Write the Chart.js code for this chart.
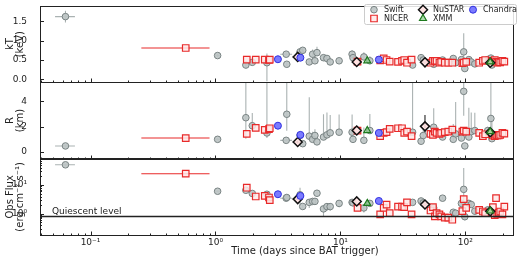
<!DOCTYPE html>
<html>
<head>
<meta charset="utf-8">
<script src="https://cdn.jsdelivr.net/npm/chart.js@4.4.1/dist/chart.umd.min.js"></script>
<style>
  html, body { margin: 0; padding: 0; background: #fff; }
  canvas { display: block; }
</style>
</head>
<body>
<canvas id="coolingChart" width="520" height="257"></canvas>
<script>
// Swift
const swiftTime = [0.063, 1.04, 1.75, 1.97, 2.58, 3.68, 3.72, 4.75, 4.99, 5.63, 5.99, 6.25, 6.49, 7.32, 7.80, 8.28, 9.76, 12.4, 12.6, 15.4, 17.2, 37.8, 44.2, 46.0, 55.8, 65.7, 80, 83.6, 93, 97, 99, 106.6, 111.4, 119, 151, 160, 163];
const swiftTimeErr = [[0.052, 0.075], [0.99, 1.09], null, null, null, [3.3, 4.1]];
const swiftKT = [1.62, 0.615, 0.37, 0.44, 0.43, 0.65, 0.39, 0.71, 0.75, 0.45, 0.65, 0.48, 0.69, 0.56, 0.54, 0.45, 0.48, 0.65, 0.56, 0.58, 0.48, 0.37, 0.56, 0.50, 0.39, 0.50, 0.54, 0.43, 0.51, 0.71, 0.28, 0.51, 0.45, 0.40, 0.51, 0.55, 0.37];
const swiftKTErr = [[0.15,0.15],[0.04,0.04],[0.08,0.08],[0.06,0.06],[0.48,0.24],[0.05,0.05],[0.05,0.05],[0.06,0.06],[0.06,0.06],[0.05,0.05],[0.15,0.12],[0.05,0.12],[0.08,0.15],[0.08,0.08],[0.08,0.08],[0.08,0.08],[0.05,0.05],[0.05,0.1],[0.05,0.05],[0.05,0.12],[0.05,0.12],[0.05,0.05],[0.05,0.05],[0.05,0.05],[0.05,0.05],[0.05,0.05],[0.05,0.08],[0.05,0.05],[0.05,0.05],[0.42,0.48],[0.05,0.05],[0.05,0.05],[0.05,0.05],[0.05,0.05],[0.05,0.05],[0.06,0.06],[0.05,0.05]];
const swiftR = [0.48, 1.0, 2.7, 2.07, 1.5, 0.92, 2.97, 1.3, 0.66, 1.25, 1.0, 1.3, 0.8, 1.18, 1.35, 1.51, 1.56, 1.56, 1.0, 0.92, 1.69, 1.56, 0.85, 1.3, 1.95, 1.18, 1.0, 1.43, 1.1, 4.77, 0.48, 1.18, 1.6, 1.69, 1.69, 2.64, 1.05];
const swiftRErr = [[0.1,0.1],[0.1,0.1],[1.65,4],[0.4,1.0],[0.4,5],[0.1,0.1],[1.3,4],[0.3,0.3],[0.1,0.1],[0.3,3.05],[0.2,0.6],[0.2,0.5],[0.1,0.1],[0.2,1.8],[0.2,1.75],[0.2,1.4],[0.2,1.4],[0.2,1.4],[0.1,0.1],[0.1,1.0],[0.2,1.3],[0.2,5],[0.1,0.1],[0.2,0.5],[0.3,1.5],[0.2,0.3],[0.2,1.2],[0.2,2.5],[0.2,0.3],[1.92,3],[0.1,0.1],[0.2,2.3],[0.2,1.5],[0.2,1.4],[0.2,0.3],[1.2,4],[0.1,1.5]];
const swiftFlux = [51, 6.1, 6.6, 5.1, 4.8, 3.5, 3.7, 4.6, 1.8, 2.5, 2.7, 2.7, 5.2, 1.48, 1.78, 1.78, 2.3, 2.5, 2.4, 1.6, 2.3, 2.5, 2.8, 2.4, 1.6, 3.5, 1.13, 1.05, 2.3, 7.1, 0.79, 2.3, 2.1, 1.23, 1.37, 1.2, 1.1];
const swiftFluxErr = [[5,5],[0.5,0.5],[0.6,0.6],[0.5,0.5],[0.6,0.6],[0.4,0.4],[0.4,0.4],[2.4,3.5],[0.3,0.3],[0.9,0.5],[0.5,0.5],[0.5,0.5],[0.5,0.5],[0.7,0.5],[0.5,0.5],[0.5,0.6],[0.6,0.6],[0.4,0.4],[0.4,0.4],[0.5,0.4],[0.5,0.5],[0.4,0.4],[0.4,0.4],[0.4,0.4],[0.4,0.4],[0.4,0.4],[0.2,0.2],[0.2,0.2],[0.4,0.4],[6.4,32],[0.2,0.2],[0.4,0.4],[0.4,0.4],[0.3,0.3],[0.3,0.3],[0.3,0.3],[0.2,0.2]];

// NICER
const nicerTime = [0.578, 1.78, 2.10, 2.48, 2.68, 2.72, 13.7, 20.8, 22.2, 23.4, 24.8, 28.9, 31.1, 32.4, 34.1, 37.1, 52.6, 55, 57, 58.8, 62, 64, 68.4, 73, 78.6, 94.6, 97, 101.5, 129, 138, 144, 166, 172, 176, 180, 185, 190, 198, 205];
const nicerTimeErr = [[0.255, 0.896]];
const nicerKT = [0.81, 0.51, 0.51, 0.51, 0.50, 0.51, 0.46, 0.49, 0.54, 0.50, 0.46, 0.45, 0.48, 0.50, 0.43, 0.51, 0.43, 0.48, 0.48, 0.48, 0.43, 0.45, 0.43, 0.43, 0.43, 0.42, 0.43, 0.45, 0.43, 0.48, 0.50, 0.48, 0.50, 0.46, 0.43, 0.45, 0.44, 0.48, 0.46];
const nicerR = [1.1, 1.43, 1.9, 1.74, 1.8, 1.87, 1.69, 1.25, 1.5, 1.56, 1.82, 1.87, 1.87, 1.5, 1.6, 1.25, 1.43, 1.35, 1.6, 1.5, 1.43, 1.5, 1.56, 1.6, 1.77, 1.6, 1.69, 1.6, 1.5, 1.25, 1.4, 1.3, 1.25, 1.35, 1.3, 1.3, 1.35, 1.5, 1.45];
const nicerFlux = [25, 8.1, 4.0, 4.2, 3.7, 3.0, 1.6, 0.95, 1.6, 2.1, 1.05, 1.78, 1.78, 1.7, 2.5, 0.95, 1.3, 1.7, 0.81, 1.05, 0.95, 0.81, 0.73, 0.73, 0.62, 1.23, 3.25, 1.6, 1.37, 1.2, 1.05, 1.7, 0.9, 3.5, 1.0, 1.1, 1.2, 0.95, 1.78];

// NuSTAR
const nustarTime = [4.55, 13.5, 47.5, 158];
const nustarTimeErr = [[4.15, 4.6]];
const nustarKT = [0.58, 0.45, 0.44, 0.43];
const nustarR = [0.79, 1.69, 2.02, 1.56];
const nustarRErr = [[0.1,0.1],[0.1,0.1],[0.5,0.9],[0.1,0.1]];
const nustarFlux = [3.25, 2.7, 2.1, 1.23];

// XMM
const xmmTime = [16.4, 158];
const xmmKT = [0.48, 0.45];
const xmmR = [1.69, 1.6];
const xmmFlux = [2.3, 1.25];

// Chandra
const chandraTime = [3.16, 4.78, 20.3];
const chandraKT = [0.52, 0.56, 0.51];
const chandraR = [2.07, 1.35, 1.5];
const chandraFlux = [4.8, 4.2, 2.8];

const quiescentLevel = 0.87;

// axes
const xTickValues = [0.1, 1, 10, 100];
const xTickLabels = ['10\u207B\u00B9', '10\u2070', '10\u00B9', '10\u00B2'];
const xTitle = 'Time (days since BAT trigger)';
const kTTicks = [0, 0.5, 1.0, 1.5];
const rTicks = [0, 2, 4];
const fluxTicks = [1, 10];
const fluxTickLabels = ['10\u2070', '10\u00B9'];
const yTitles = {
    yK: ['kT', '(keV)'],
    yR: ['R', '(km)'],
    yF: ['Obs Flux', '(erg cm\u207B\u00B2 s\u207B\u00B9)']
};

const FONT = 'DejaVu Sans';
const INK = '#222';

const styles = {
    Swift:   { pointStyle: 'circle', pointRadius: 3.3, backgroundColor: 'rgba(188,196,196,0.9)', borderColor: '#788282', borderWidth: 1, errorColor: '#aab2b2', order: 5 },
    NICER:   { pointStyle: 'rect', pointRadius: 4.6, backgroundColor: 'rgba(255,232,232,0.85)', borderColor: '#e82a2a', borderWidth: 1.2, errorColor: '#e82a2a', order: 4 },
    NuSTAR:  { pointStyle: 'rectRot', pointRadius: 4.5, backgroundColor: 'rgba(255,225,225,0.9)', borderColor: '#111', borderWidth: 1.5, errorColor: '#222', order: 3 },
    XMM:     { pointStyle: 'triangle', pointRadius: 4, backgroundColor: 'rgba(120,200,120,0.6)', borderColor: '#1e7a1e', borderWidth: 1.2, errorColor: '#1e7a1e', order: 2 },
    Chandra: { pointStyle: 'circle', pointRadius: 3.5, backgroundColor: '#7b7bff', borderColor: '#2f2fe0', borderWidth: 1, errorColor: '#2f2fe0', order: 1 }
};

function series(name, axis, times, values, yErr, tErr) {
    const bars = times.map((t, i) => {
        const e = yErr ? yErr[i] : null;
        const te = tErr ? tErr[i] : null;
        return {
            x: t, y: values[i],
            yMin: e ? values[i] - e[0] : null,
            yMax: e ? values[i] + e[1] : null,
            xMin: te ? te[0] : null,
            xMax: te ? te[1] : null
        };
    });
    return Object.assign({
        label: name,
        yAxisID: axis,
        data: times.map((t, i) => ({ x: t, y: values[i] })),
        errorBars: bars,
        pointHoverRadius: 0
    }, styles[name]);
}

const datasets = [
    series('Swift', 'yK', swiftTime, swiftKT, swiftKTErr, swiftTimeErr),
    series('Swift', 'yR', swiftTime, swiftR, swiftRErr, swiftTimeErr),
    series('Swift', 'yF', swiftTime, swiftFlux, swiftFluxErr, swiftTimeErr),
    series('NICER', 'yK', nicerTime, nicerKT, null, nicerTimeErr),
    series('NICER', 'yR', nicerTime, nicerR, null, nicerTimeErr),
    series('NICER', 'yF', nicerTime, nicerFlux, null, nicerTimeErr),
    series('NuSTAR', 'yK', nustarTime, nustarKT, null, nustarTimeErr),
    series('NuSTAR', 'yR', nustarTime, nustarR, nustarRErr, nustarTimeErr),
    series('NuSTAR', 'yF', nustarTime, nustarFlux, null, nustarTimeErr),
    series('XMM', 'yK', xmmTime, xmmKT),
    series('XMM', 'yR', xmmTime, xmmR),
    series('XMM', 'yF', xmmTime, xmmFlux),
    series('Chandra', 'yK', chandraTime, chandraKT),
    series('Chandra', 'yR', chandraTime, chandraR),
    series('Chandra', 'yF', chandraTime, chandraFlux)
];

function panelScale(extra) {
    return Object.assign({
        position: 'left',
        stack: 'panels',
        stackWeight: 1,
        grid: { display: false },
        border: { display: false },
        afterFit: s => { s.width = 40; s.paddingTop = 0; s.paddingBottom = 0; }
    }, extra);
}

function tickFont() { return { family: FONT, size: 9 }; }

// frames, inward ticks, axis texts, quiescent level, error bars and legend
const panelPlugin = {
    id: 'panelPlugin',
    beforeDatasetsDraw(chart) {
        const ctx = chart.ctx, area = chart.chartArea, xs = chart.scales.x;
        chart.data.datasets.forEach(ds => {
            const ys = chart.scales[ds.yAxisID];
            ctx.save();
            ctx.beginPath();
            ctx.rect(area.left, ys.top, area.right - area.left, ys.bottom - ys.top);
            ctx.clip();
            ctx.strokeStyle = ds.errorColor;
            ctx.lineWidth = 1.1;
            ds.errorBars.forEach(e => {
                const px = xs.getPixelForValue(e.x), py = ys.getPixelForValue(e.y);
                ctx.beginPath();
                if (e.yMin !== null) {
                    ctx.moveTo(px, ys.getPixelForValue(e.yMin));
                    ctx.lineTo(px, ys.getPixelForValue(e.yMax));
                }
                if (e.xMin !== null) {
                    ctx.moveTo(xs.getPixelForValue(e.xMin), py);
                    ctx.lineTo(xs.getPixelForValue(e.xMax), py);
                }
                ctx.stroke();
            });
            ctx.restore();
        });
    },
    afterDraw(chart) {
        const ctx = chart.ctx, area = chart.chartArea, xs = chart.scales.x;
        const panels = [chart.scales.yK, chart.scales.yR, chart.scales.yF];
        ctx.save();
        ctx.strokeStyle = INK;
        ctx.fillStyle = INK;
        ctx.lineWidth = 1;

        // quiescent level
        const yF = chart.scales.yF;
        const qy = Math.round(yF.getPixelForValue(quiescentLevel)) + 0.5;
        ctx.beginPath();
        ctx.moveTo(area.left, qy);
        ctx.lineTo(area.right, qy);
        ctx.lineWidth = 1.3;
        ctx.stroke();
        ctx.font = '9px "' + FONT + '"';
        ctx.textBaseline = 'alphabetic';
        ctx.textAlign = 'left';
        ctx.fillText('Quiescent level', area.left + 12, qy - 2.5);
        ctx.lineWidth = 1;

        // x tick labels and title
        ctx.textAlign = 'center';
        ctx.textBaseline = 'middle';
        xTickValues.forEach((v, i) => {
            ctx.fillText(xTickLabels[i], xs.getPixelForValue(v), area.bottom + 8);
        });
        ctx.font = '10px "' + FONT + '"';
        ctx.fillText(xTitle, 305, 251);

        // y titles, two lines each, rotated
        panels.forEach(p => {
            const lines = yTitles[p.id];
            const cy = (p.top + p.bottom) / 2;
            lines.forEach((line, k) => {
                ctx.save();
                ctx.translate(10 + k * 10, cy);
                ctx.rotate(-Math.PI / 2);
                ctx.fillText(line, 0, 0);
                ctx.restore();
            });
        });

        // x ticks (inward) on each panel
        const lo = Math.floor(Math.log10(xs.min)), hi = Math.ceil(Math.log10(xs.max));
        panels.forEach(p => {
            const yb = Math.round(p.bottom) + 0.5;
            ctx.beginPath();
            for (let d = lo; d <= hi; d++) {
                for (let m = 1; m <= 9; m++) {
                    const v = m * Math.pow(10, d);
                    if (v < xs.min || v > xs.max) continue;
                    const px = Math.round(xs.getPixelForValue(v)) + 0.5;
                    ctx.moveTo(px, yb);
                    ctx.lineTo(px, yb - (m === 1 ? 4 : 2));
                }
            }
            ctx.stroke();
            // y ticks (inward)
            ctx.beginPath();
            p.ticks.forEach(t => {
                const py = Math.round(p.getPixelForValue(t.value)) + 0.5;
                ctx.moveTo(area.left, py);
                ctx.lineTo(area.left + 4, py);
            });
            if (p.type === 'logarithmic') {
                const a = Math.floor(Math.log10(p.min)), b = Math.ceil(Math.log10(p.max));
                for (let d = a; d <= b; d++) {
                    for (let m = 2; m <= 9; m++) {
                        const v = m * Math.pow(10, d);
                        if (v < p.min || v > p.max) continue;
                        const py = Math.round(p.getPixelForValue(v)) + 0.5;
                        ctx.moveTo(area.left, py);
                        ctx.lineTo(area.left + 2, py);
                    }
                }
            }
            ctx.stroke();
            // frame
            ctx.strokeRect(Math.round(area.left) + 0.5, Math.round(p.top) + 0.5,
                Math.round(area.right - area.left) - 1, Math.round(p.bottom - p.top));
        });

        // legend
        const lx = 364, ly = 4, lw = 152, lh = 20;
        ctx.beginPath();
        ctx.roundRect(lx + 0.5, ly + 0.5, lw, lh, 2);
        ctx.fillStyle = 'rgba(255,255,255,0.85)';
        ctx.fill();
        ctx.strokeStyle = '#cccccc';
        ctx.stroke();
        const entries = [
            ['Swift', 374, 9.7], ['NuSTAR', 423, 9.7], ['Chandra', 473, 9.7],
            ['NICER', 374, 18.5], ['XMM', 423, 18.5]
        ];
        ctx.font = '8px "' + FONT + '"';
        ctx.textAlign = 'left';
        ctx.textBaseline = 'middle';
        entries.forEach(([name, x, y]) => {
            const st = styles[name];
            ctx.fillStyle = st.backgroundColor;
            ctx.strokeStyle = st.borderColor;
            ctx.lineWidth = st.borderWidth;
            Chart.helpers.drawPoint(ctx, { pointStyle: st.pointStyle, radius: st.pointRadius, rotation: 0, borderWidth: st.borderWidth }, x, y);
            ctx.fillStyle = INK;
            ctx.fillText(name, x + 10, y + 0.5);
        });
        ctx.restore();
    }
};

const ctx = document.getElementById('coolingChart').getContext('2d');
new Chart(ctx, {
    type: 'scatter',
    data: { datasets: datasets },
    options: {
        responsive: false,
        animation: false,
        events: [],
        layout: { padding: { top: 1, right: 3, left: 0, bottom: 0 } },
        plugins: {
            legend: { display: false },
            tooltip: { enabled: false }
        },
        scales: {
            x: {
                type: 'logarithmic',
                position: 'bottom',
                min: 0.0394,
                max: 245,
                grid: { display: false },
                border: { display: false },
                afterBuildTicks: s => { s.ticks = xTickValues.map(v => ({ value: v })); },
                ticks: { display: false },
                afterFit: s => { s.height = 22; s.paddingLeft = 0; s.paddingRight = 0; }
            },
            yF: panelScale({
                type: 'logarithmic',
                min: 0.182,
                max: 83.5,
                afterBuildTicks: s => { s.ticks = fluxTicks.map(v => ({ value: v })); },
                ticks: { padding: 5, color: INK, font: tickFont(), callback: (v, i) => fluxTickLabels[i] }
            }),
            yR: panelScale({
                type: 'linear',
                min: -0.52,
                max: 5.48,
                afterBuildTicks: s => { s.ticks = rTicks.map(v => ({ value: v })); },
                ticks: { padding: 5, color: INK, font: tickFont(), callback: v => String(v) }
            }),
            yK: panelScale({
                type: 'linear',
                min: -0.076,
                max: 1.894,
                afterBuildTicks: s => { s.ticks = kTTicks.map(v => ({ value: v })); },
                ticks: { padding: 5, color: INK, font: tickFont(), callback: v => Number(v).toFixed(1) }
            })
        }
    },
    plugins: [panelPlugin]
});
</script>
</body>
</html>
